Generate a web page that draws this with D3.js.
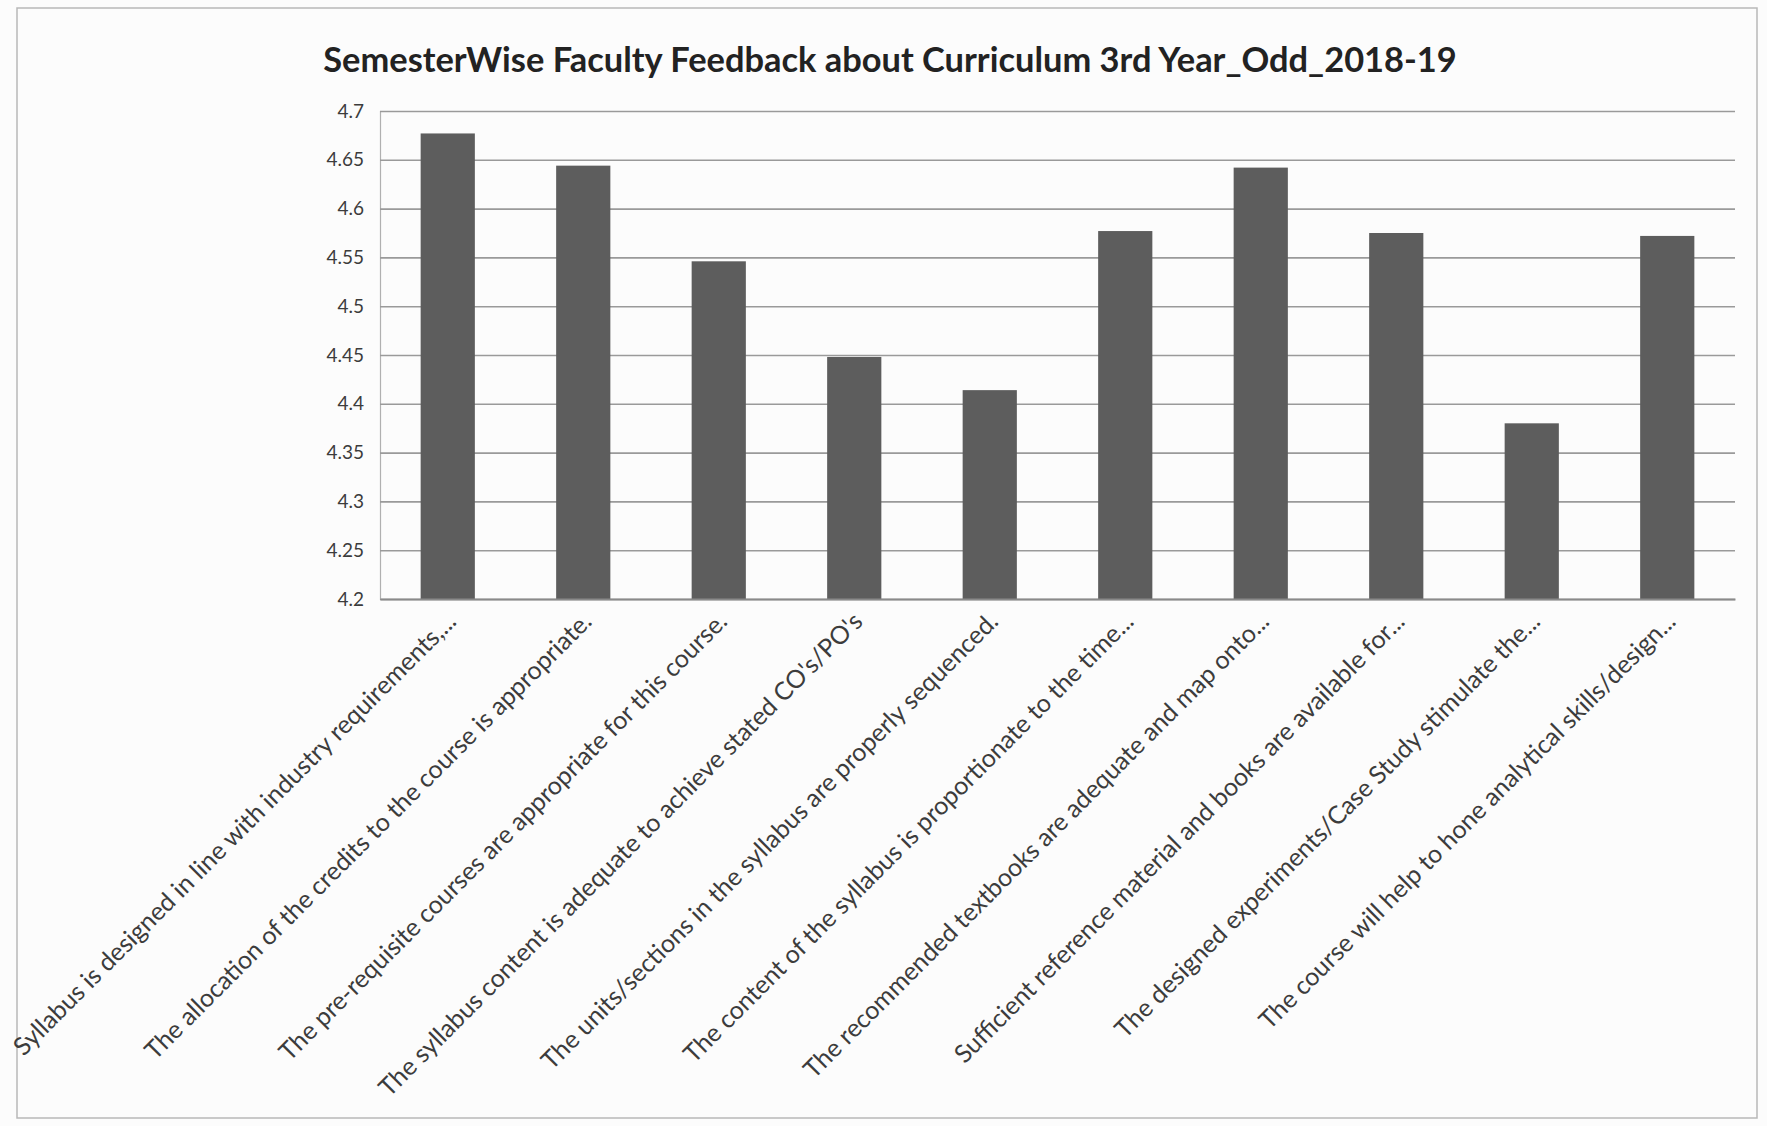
<!DOCTYPE html>
<html>
<head>
<meta charset="utf-8">
<script src="https://cdn.jsdelivr.net/npm/d3@7"></script>
<style>
  html, body { margin: 0; padding: 0; background: #ffffff; }
  svg { display: block; }
</style>
</head>
<body>
<svg id="chart" width="1767" height="1126"></svg>
<script>
const chartTitle = "SemesterWise Faculty Feedback about Curriculum 3rd Year_Odd_2018-19";

const categories = [
  "Syllabus is designed in line with industry requirements,...",
  "The allocation of the credits to the course is appropriate.",
  "The pre-requisite courses are appropriate for this course.",
  "The syllabus content is adequate to achieve stated CO's/PO's",
  "The units/sections in the syllabus are properly sequenced.",
  "The content of the syllabus is proportionate to the time...",
  "The recommended textbooks are adequate and map onto...",
  "Sufficient reference material and books are available for...",
  "The designed experiments/Case Study stimulate the...",
  "The course will help to hone analytical skills/design..."
];

const values = [4.677, 4.644, 4.546, 4.448, 4.414, 4.577, 4.642, 4.575, 4.380, 4.572];

const yTicks = [4.2, 4.25, 4.3, 4.35, 4.4, 4.45, 4.5, 4.55, 4.6, 4.65, 4.7];
const yTickLabels = ["4.2", "4.25", "4.3", "4.35", "4.4", "4.45", "4.5", "4.55", "4.6", "4.65", "4.7"];

const svg = d3.select("#chart");
const W = 1767, H = 1126;
const plot = { left: 380, right: 1735, top: 111, bottom: 599 };
const FONT = "Lato, 'Open Sans', 'Liberation Sans', sans-serif";
const textColor = "#3c3c3c";

svg.append("rect").attr("x", 0).attr("y", 0).attr("width", W).attr("height", H).attr("fill", "#fcfcfc");
// chart frame
svg.append("rect").attr("x", 17).attr("y", 8).attr("width", 1740).attr("height", 1110)
  .attr("fill", "none").attr("stroke", "#b8b8b8").attr("stroke-width", 1.5);

const x = d3.scaleBand().domain(categories).range([plot.left, plot.right]).paddingInner(0.6).paddingOuter(0.3);
const y = d3.scaleLinear().domain([4.2, 4.7]).range([plot.bottom, plot.top]);

// gridlines
const yAxis = d3.axisLeft(y).tickValues(yTicks)
  .tickFormat((d, i) => yTickLabels[i])
  .tickSize(-(plot.right - plot.left)).tickPadding(16);
const gy = svg.append("g").attr("transform", `translate(${plot.left},0)`).call(yAxis);
gy.select(".domain").attr("stroke", "#b0b0b0").attr("stroke-width", 1.2);
gy.selectAll(".tick line").attr("stroke", "#9a9a9a").attr("stroke-width", 1.6);
gy.selectAll(".tick text").attr("font-family", FONT).attr("font-size", 19).attr("fill", textColor);

// bars
svg.append("g").selectAll("rect").data(values).join("rect")
  .attr("x", (d, i) => x(categories[i]))
  .attr("width", x.bandwidth())
  .attr("y", d => y(d))
  .attr("height", d => y(4.2) - y(d))
  .attr("fill", "#5d5d5d");

// x axis line
const xAxis = d3.axisBottom(x).tickSize(0).tickFormat("");
const gx = svg.append("g").attr("transform", `translate(0,${plot.bottom})`).call(xAxis);
gx.select(".domain").attr("stroke", "#8a8a8a").attr("stroke-width", 1.8);

// category labels rotated -45
const labelG = svg.append("g");
const labels = labelG.selectAll("text").data(categories).join("text")
  .attr("font-family", FONT).attr("font-size", 20).attr("fill", textColor)
  .attr("text-anchor", "end")
  .attr("transform", d => `translate(${x(d) + x.bandwidth() / 2 + 10},${plot.bottom + 24}) rotate(-45)`)
  .text(d => d);
// fit label size so that the first label spans about 614px
const l0 = labels.node().getComputedTextLength();
labels.attr("font-size", 20 * 614 / l0);

// title
const title = svg.append("text").attr("x", 890).attr("y", 72)
  .attr("text-anchor", "middle").attr("font-family", FONT).attr("font-weight", "bold")
  .attr("font-size", 30).attr("fill", "#222").text(chartTitle);
const tl = title.node().getComputedTextLength();
title.attr("font-size", 30 * 1134 / tl);
</script>
</body>
</html>
